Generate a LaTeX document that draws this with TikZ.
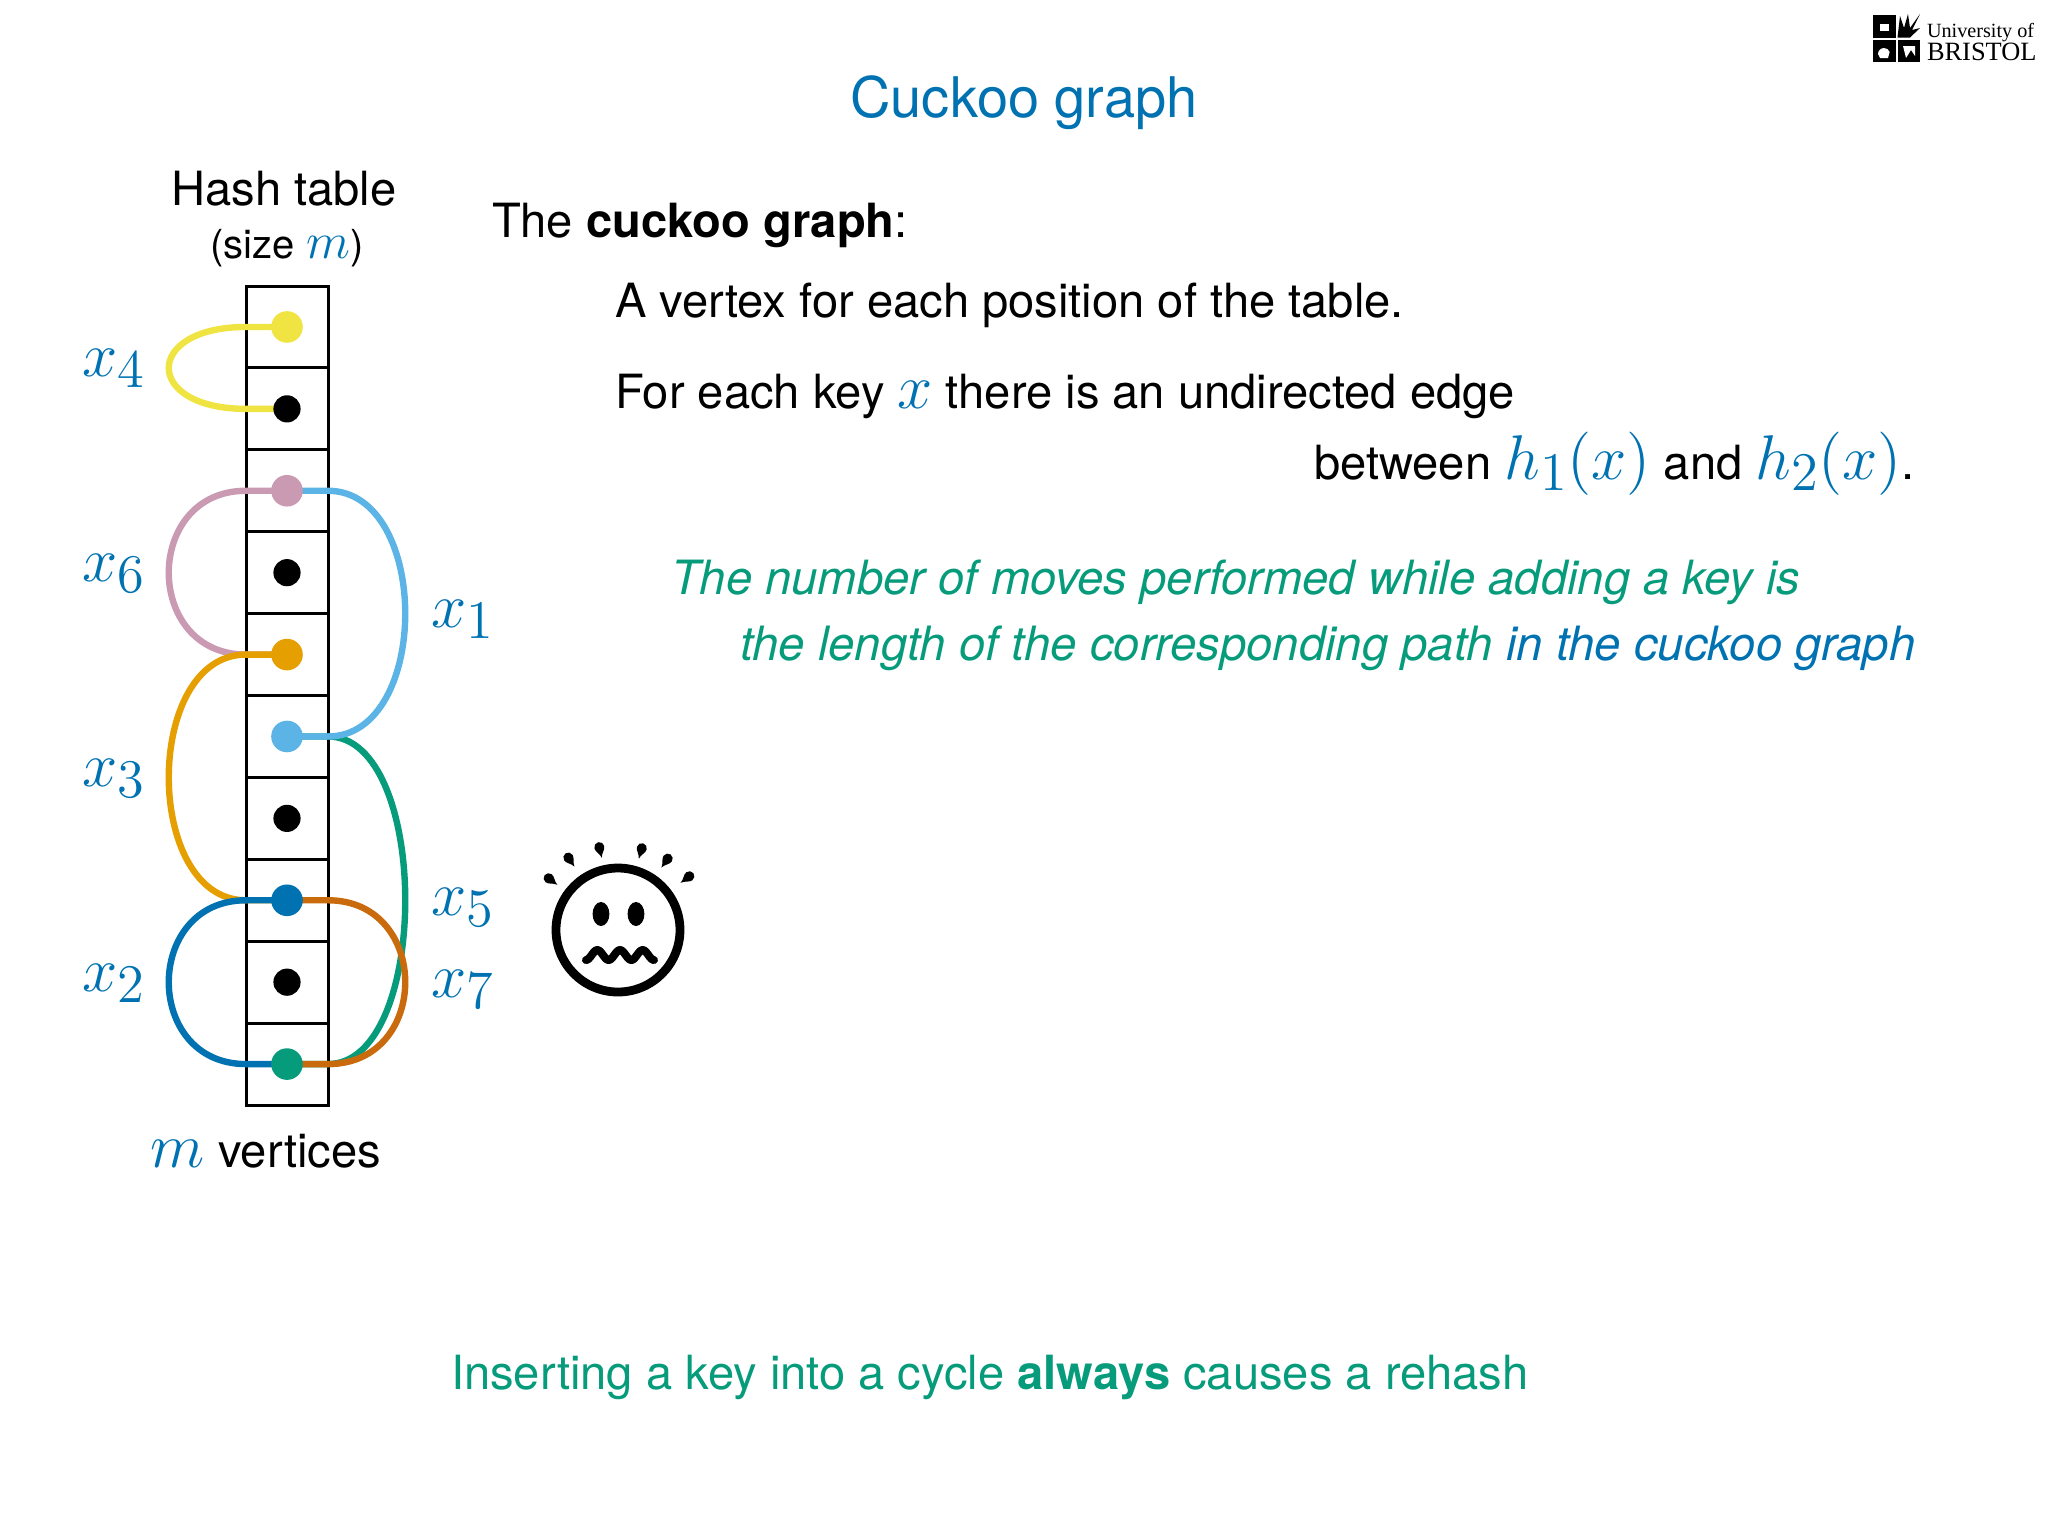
\RequirePackage{fix-cm}
\documentclass[tikz,border=0pt]{standalone}
\usepackage[no-math]{fontspec}
\setmainfont{TeX Gyre Heros}
\newfontfamily\logofont{Liberation Serif}
\pgfdeclarelayer{back}
\pgfdeclarelayer{mid}
\pgfsetlayers{back,mid,main}
\definecolor{cblue}{HTML}{0072B2}
\definecolor{cgreen}{HTML}{069B7B}
\definecolor{csky}{HTML}{5CB4E6}
\definecolor{cyell}{HTML}{F0E442}
\definecolor{cpink}{HTML}{C99AB2}
\definecolor{corange}{HTML}{E69F00}
\definecolor{cverm}{HTML}{C96A0C}
\newcommand{\fs}[1]{\fontsize{#1}{#1}\selectfont}
\newcommand{\subn}[1]{\kern0.2pt\lower2.9pt\hbox{\fs{13.6}\color{cblue}$#1$}}
\newcommand{\bm}[1]{\textcolor{cblue}{\fs{12.8}$#1$}}
\newcommand{\mathfs}[1]{\textcolor{cblue}{\fs{15.8}$#1$}}
\newcommand{\xs}[1]{\mathfs{x}\subn{#1}}
\newcommand{\hs}[1]{\mathfs{h}\subn{#1}\mathfs{(x)}}
\newcommand{\sweat}[3]{\fill[shift={(#1,#2)},rotate=#3] (0,8) .. controls (1,3) and (5,1) .. (5,-3) arc[start angle=0,end angle=180,radius=1.25pt] .. controls (-5,1) and (-1,3) .. (0,8) -- cycle;}
\tikzset{
  x=0.25pt,y=-0.25pt,
  cellbox/.style={draw=black,line width=0.75pt,minimum width=20.5pt,minimum height=20.47pt,inner sep=0pt,outer sep=0pt},
  dotn/.style={circle,fill=#1,minimum size=7.9pt,inner sep=0pt,outer sep=0pt},
  blackdot/.style={circle,fill=black,minimum size=6.8pt,inner sep=0pt,outer sep=0pt},
  edgeline/.style={line width=1.6pt,draw=#1},
  txt/.style={anchor=base west,inner sep=0pt,outer sep=0pt,font=\fs{11.78}},
  txtc/.style={anchor=base,inner sep=0pt,outer sep=0pt,font=\fs{11.78}},
  txte/.style={anchor=base east,inner sep=0pt,outer sep=0pt,font=\fs{11.78}},
  keylabel/.style={anchor=base west,inner sep=0pt,outer sep=0pt,text=cblue},
  gtxt/.style={txt,text=cgreen},
}
\begin{document}
\begin{tikzpicture}
\useasboundingbox (0,0) rectangle (2048,1536);
% title
\node[txtc,font=\fs{14},text=cblue] (title) at (1024,117) {Cuckoo graph};
% table
\begin{pgfonlayer}{back}
\foreach \i in {1,...,10}{
  \node[cellbox] (c\i) at (287,{286+81.9*(\i-0.5)}) {};
}
\end{pgfonlayer}
\node[dotn=cyell] (d1) at (c1) {};
\node[blackdot] (d2) at (c2) {};
\node[dotn=cpink] (d3) at (c3) {};
\node[blackdot] (d4) at (c4) {};
\node[dotn=corange] (d5) at (c5) {};
\node[dotn=csky] (d6) at (c6) {};
\node[blackdot] (d7) at (c7) {};
\node[dotn=cblue] (d8) at (c8) {};
\node[blackdot] (d9) at (c9) {};
\node[dotn=cgreen] (d10) at (c10) {};
\begin{pgfonlayer}{mid}
\draw[edgeline=cyell] (d1.center) -- (d1.center -| c1.west) .. controls +(-103,0) and +(-103,0) .. (d2.center -| c1.west) -- (d2.center);
\draw[edgeline=cpink] (d3.center) -- (d3.center -| c1.west) .. controls +(-103,0) and +(-103,0) .. (d5.center -| c1.west) -- (d5.center);
\draw[edgeline=corange] (d5.center) -- (d5.center -| c1.west) .. controls +(-103,0) and +(-103,0) .. (d8.center -| c1.west) -- (d8.center);
\draw[edgeline=cblue] (d8.center) -- (d8.center -| c1.west) .. controls +(-103,0) and +(-103,0) .. (d10.center -| c1.west) -- (d10.center);
\draw[edgeline=cgreen] (d6.center) -- (d6.center -| c1.east) .. controls +(103,0) and +(103,0) .. (d10.center -| c1.east) -- (d10.center);
\draw[edgeline=csky] (d3.center) -- (d3.center -| c1.east) .. controls +(103,0) and +(103,0) .. (d6.center -| c1.east) -- (d6.center);
\draw[edgeline=cverm] (d8.center) -- (d8.center -| c1.east) .. controls +(103,0) and +(103,0) .. (d10.center -| c1.east) -- (d10.center);
\end{pgfonlayer}
% table captions
\node[txtc] (ht) at (284,205) {Hash table};
\node[txtc,font=\fs{10}] (sz) at (287,258) {(size \bm{m})};
\node[txt] (mv) at (151,1167) {\mathfs{m} vertices};
% key labels
\node[keylabel] (x4) at (82,376) {\xs{4}};
\node[keylabel] (x6) at (82,581) {\xs{6}};
\node[keylabel] (x3) at (82,786) {\xs{3}};
\node[keylabel] (x2) at (82,991) {\xs{2}};
\node[keylabel] (x1) at (431,627) {\xs{1}};
\node[keylabel] (x5) at (431,915) {\xs{5}};
\node[keylabel] (x7) at (431,997) {\xs{7}};
% text
\node[txt] (t1) at (492,237) {The \textbf{cuckoo graph}:};
\node[txt] (t2) at (615,317) {A vertex for each position of the table.};
\node[txt] (t3) at (615,408) {For each key \mathfs{x} there is an undirected edge};
\node[txte] (t4) at (1915,479) {between \hs{1} and \hs{2}.};
\node[gtxt,font=\fs{11.8}\itshape] (g1) at (671,594) {The number of moves performed while adding a key is};
\node[gtxt,font=\fs{11.82}\itshape] (g2) at (740,660) {the length of the corresponding path \textcolor{cblue}{in the cuckoo graph}};
\node[gtxt] (g3) at (451,1389) {Inserting a key into a cycle \textbf{always} causes a rehash};
% face
\draw[line width=2.2pt] (618,930) circle[radius=15.5pt];
\fill (601,914) ellipse[x radius=2.1pt,y radius=3pt];
\fill (636,914) ellipse[x radius=2.1pt,y radius=3pt];
\draw[line width=2pt,line cap=round,line join=round] plot[smooth,domain=0:1,samples=49] ({586+68*\x},{955+5*cos(\x*3*360)});
\sweat{551}{880}{53}
\sweat{570}{860}{34}
\sweat{600}{850}{13}
\sweat{641}{851}{-16}
\sweat{666}{861}{-35}
\sweat{687}{878}{-53}
% logo
\fill (1873,15) rectangle (1895.5,37.5);
\fill (1873,39.5) rectangle (1895.5,62);
\fill (1897.5,39.5) rectangle (1920,62);
\fill (1897.5,37.5) -- (1900,16) -- (1904,28) -- (1908,14) -- (1910,28) -- (1920,14) -- (1912,30) -- (1920,28) -- (1910,37.5) -- cycle;
\fill[white] (1880,24) rectangle (1889,31);
\fill[white] (1878,54) arc[start angle=180,end angle=20,radius=1.5pt] -- (1888,58) -- (1880,58) -- cycle;
\fill[white] (1903,46) -- (1915,46) -- (1915,56) -- (1911,50) -- (1906,58) -- cycle;
\node[anchor=base west,inner sep=0pt,outer sep=0pt,font=\logofont\fs{5.05}] (lg1) at (1927,37) {University of};
\node[anchor=base west,inner sep=0pt,outer sep=0pt,font=\logofont\fs{6.6}] (lg2) at (1927,60) {BRISTOL};
\end{tikzpicture}
\end{document}
